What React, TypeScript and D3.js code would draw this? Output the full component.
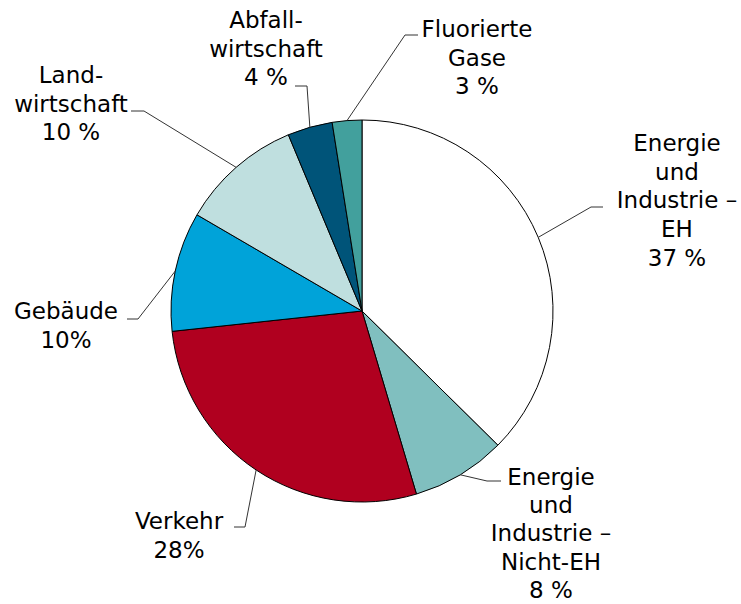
import React from "react";
import * as d3 from "d3";

const categories = [
  "Energie und Industrie – EH",
  "Energie und Industrie – Nicht-EH",
  "Verkehr",
  "Gebäude",
  "Landwirtschaft",
  "Abfallwirtschaft",
  "Fluorierte Gase",
];
const values = [37.4, 8.0, 27.9, 10.1, 10.3, 3.8, 2.5];
const labelLines = [
  ["Energie", "und", "Industrie –", "EH", "37 %"],
  ["Energie", "und", "Industrie –", "Nicht-EH", "8 %"],
  ["Verkehr", "28%"],
  ["Gebäude", "10%"],
  ["Land-", "wirtschaft", "10 %"],
  ["Abfall-", "wirtschaft", "4 %"],
  ["Fluorierte", "Gase", "3 %"],
];
const colors = ["#FFFFFF", "#80BFBF", "#B0001F", "#00A3D9", "#BFDFDF", "#005479", "#42A09D"];

// layout: text center x, first baseline y, line height, elbow x/y, end x of horizontal stub
const labelLayout = [
  { tx: 677, ty: 151, lh: 28.7, ex: 591, ey: 207, hx: 603 },
  { tx: 551, ty: 485, lh: 28.2, ex: 487, ey: 481, hx: 501 },
  { tx: 179, ty: 529, lh: 28.7, ex: 245, ey: 527, hx: 234 },
  { tx: 66, ty: 319, lh: 28.7, ex: 138, ey: 319, hx: 127 },
  { tx: 71, ty: 83, lh: 28.7, ex: 144, ey: 111, hx: 131 },
  { tx: 266, ty: 28, lh: 28.7, ex: 307, ey: 86, hx: 295 },
  { tx: 477, ty: 37, lh: 28.7, ex: 405, ey: 35, hx: 418 },
];

const W = 741;
const H = 604;
const cx = 362;
const cy = 311;
const R = 191;

export default function App() {
  const pie = d3.pie<number>().sort(null).value((d) => d)(values);
  const arc = d3.arc<d3.PieArcDatum<number>>().innerRadius(0).outerRadius(R);
  return (
    <svg
      width={W}
      height={H}
      style={{ position: "fixed", left: 0, top: 0, background: "#fff" }}
      fontFamily="'DejaVu Sans', Verdana, sans-serif"
    >
      <g transform={`translate(${cx},${cy})`}>
        {pie.map((p, i) => (
          <path key={categories[i]} d={arc(p) || ""} fill={colors[i]} stroke="#000" strokeWidth={1} />
        ))}
      </g>
      {pie.map((p, i) => {
        const a = (p.startAngle + p.endAngle) / 2;
        const sx = cx + R * Math.sin(a);
        const sy = cy - R * Math.cos(a);
        const L = labelLayout[i];
        return (
          <polyline
            key={"l" + i}
            points={`${sx},${sy} ${L.ex},${L.ey} ${L.hx},${L.ey}`}
            fill="none"
            stroke="#333"
            strokeWidth={1}
          />
        );
      })}
      {labelLines.map((lines, i) => {
        const L = labelLayout[i];
        return (
          <text key={"t" + i} textAnchor="middle" fontSize={23} fill="#000">
            {lines.map((s, j) => (
              <tspan key={j} x={L.tx} y={L.ty + j * L.lh}>
                {s}
              </tspan>
            ))}
          </text>
        );
      })}
    </svg>
  );
}
